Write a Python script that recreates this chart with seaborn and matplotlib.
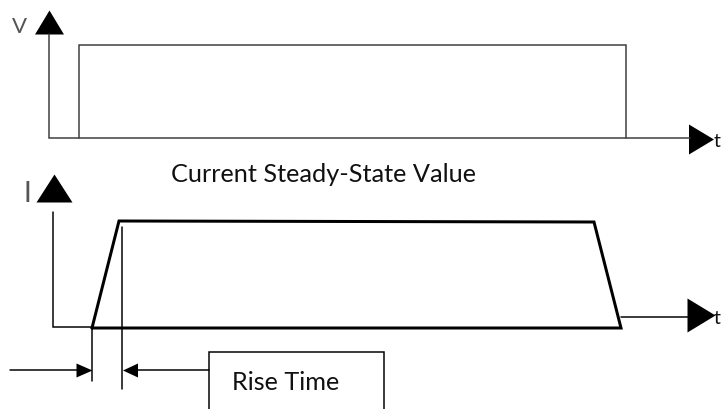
import matplotlib
matplotlib.use("Agg")
import matplotlib.pyplot as plt
from matplotlib.markers import MarkerStyle
import seaborn as sns

# the sketch is laid out on the 722 x 409 pixel grid of the original, y grows downward

# voltage panel
v_axis_t = [49, 49, 690]
v_axis_v = [34, 138, 138]
v_pulse_t = [79, 79, 626, 626]
v_pulse_v = [138, 45, 45, 138]

# current panel
i_axis_t = [53, 53, 92]
i_axis_i = [212, 327, 327]
i_pulse_t = [92, 119, 594, 621, 92]
i_pulse_i = [328, 221, 222, 328, 328]
i_tail_t = [621, 690]
i_tail_i = [317, 317]

# rise time markers and label box
rise_start_t = [92, 92]
rise_start_y = [328, 381]
rise_end_t = [121.5, 121.5]
rise_end_y = [227, 389]
lead_in_t = [10, 80]
lead_in_y = [370, 370]
lead_out_t = [133, 209]
lead_out_y = [370, 370]
box_t = [209, 209, 384, 384]
box_y = [412, 352, 352, 412]

# arrow heads: centre x, centre y, width, height, pointing direction
head_x = [49, 700.5, 54, 701, 84, 129.5]
head_y = [22, 139, 188, 315, 370, 370]
head_w = [29, 25, 36, 28, 16, 15]
head_h = [24, 30, 28, 34, 14, 14]
head_dir = ["up", "right", "up", "right", "right", "left"]

labels = ["V", "I", "t", "t", "Current Steady-State Value", "Rise Time"]
label_x = [12, 24, 714, 714, 171, 232]
label_y = [33, 202, 147, 324, 182, 390]


def head_marker(w, h, direction):
    if direction == "up":
        verts = [(0, h / 2), (-w / 2, -h / 2), (w / 2, -h / 2), (0, h / 2)]
    elif direction == "right":
        verts = [(w / 2, 0), (-w / 2, h / 2), (-w / 2, -h / 2), (w / 2, 0)]
    else:
        verts = [(-w / 2, 0), (w / 2, h / 2), (w / 2, -h / 2), (-w / 2, 0)]
    return MarkerStyle(verts)


sns.set_style("white")
plt.rcParams['font.family'] = ['Lato', 'DejaVu Sans']

fig = plt.figure(figsize=(7.22, 4.09), dpi=100)
ax = fig.add_axes([0, 0, 1, 1])

thin = 1.5 * 0.72
thick = 3 * 0.72
grey = "#3c3c3c"

def draw(xs, ys, color="black", lw=thin):
    sns.lineplot(x=xs, y=ys, sort=False, estimator=None, color=color,
                 linewidth=lw, ax=ax, solid_joinstyle="miter")

draw(v_axis_t, v_axis_v, grey)
draw(v_pulse_t, v_pulse_v, grey)
draw(i_axis_t, i_axis_i)
draw(i_pulse_t, i_pulse_i, lw=thick)
draw(i_tail_t, i_tail_i)
draw(rise_start_t, rise_start_y)
draw(rise_end_t, rise_end_y)
draw(lead_in_t, lead_in_y)
draw(lead_out_t, lead_out_y)
draw(box_t, box_y)

for x, y, w, h, d in zip(head_x, head_y, head_w, head_h, head_dir):
    size = max(w, h) * 0.72
    sns.scatterplot(x=[x], y=[y], marker=head_marker(w, h, d), s=size ** 2,
                    color="black", linewidth=0, ax=ax)

# axis letters are drawn thin and grey, the notes in a regular face
ax.text(label_x[0], label_y[0], labels[0], fontsize=16, color="#555555",
        ha="left", va="baseline")
ax.text(label_x[1], label_y[1], labels[1], fontsize=20, color="#555555",
        ha="left", va="baseline")
for i in (2, 3):
    ax.text(label_x[i], label_y[i], labels[i], fontsize=14, color="#111111",
            ha="left", va="baseline")
for i in (4, 5):
    ax.text(label_x[i], label_y[i], labels[i], fontsize=18.2, color="#111111",
            ha="left", va="baseline")

ax.set_xlim(0, 722)
ax.set_ylim(409, 0)
ax.axis("off")

fig.savefig("out.png", dpi=100)
